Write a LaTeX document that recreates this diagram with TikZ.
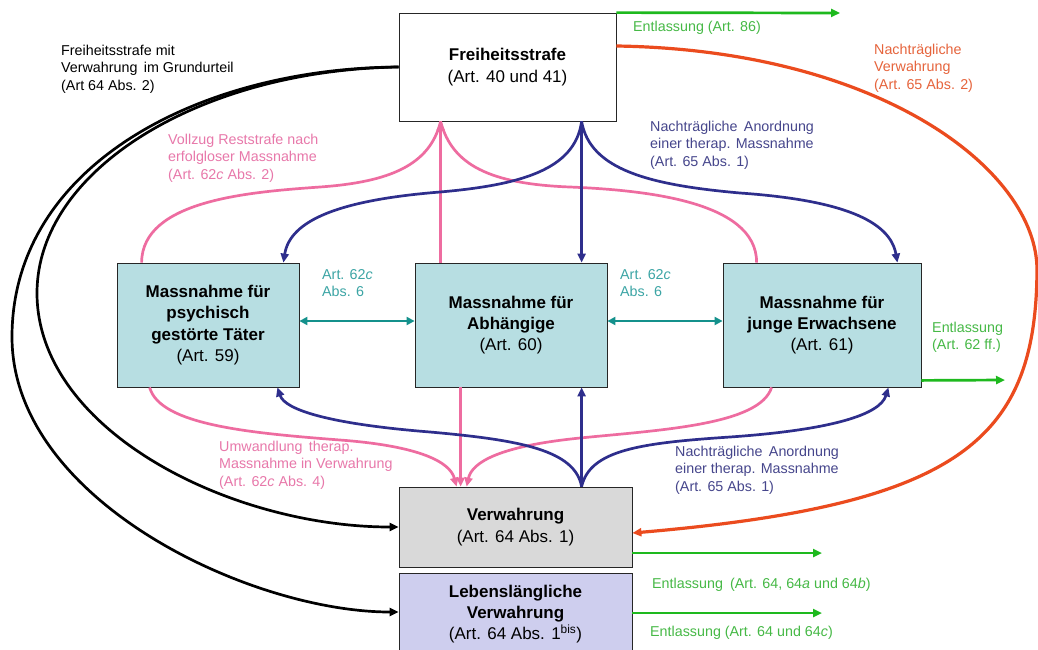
\documentclass[tikz,border=0pt]{standalone}
\usepackage{fontspec}
\setmainfont{Liberation Sans}
\usetikzlibrary{arrows.meta,calc}
\definecolor{boxteal}{RGB}{183,222,226}
\definecolor{boxgray}{RGB}{217,217,217}
\definecolor{boxlav}{RGB}{206,206,238}
\definecolor{cpink}{RGB}{238,108,160}
\definecolor{tpink}{RGB}{232,120,170}
\definecolor{cnavy}{RGB}{46,46,140}
\definecolor{tnavy}{RGB}{70,70,140}
\definecolor{cteal}{RGB}{20,145,140}
\definecolor{tteal}{RGB}{60,165,165}
\definecolor{cgreen}{RGB}{30,185,30}
\definecolor{tgreen}{RGB}{70,185,70}
\definecolor{corange}{RGB}{235,75,30}
\definecolor{torange}{RGB}{230,100,60}
\begin{document}
\begin{tikzpicture}[x=1pt,y=-1pt,
  box/.style={draw=black!85, line width=0.8pt, align=center, inner sep=0pt,
    font=\fontsize{17}{21.3}\selectfont, text=black},
  lbl/.style={align=left, anchor=west, inner sep=0pt, font=\fontsize{14.3}{17.3}\selectfont},
  conn/.style={line width=2.7pt},
  tip/.style={-{Triangle[length=9pt,width=8pt]}},
  dtip/.style={{Triangle[length=8pt,width=8pt]}-{Triangle[length=8pt,width=8pt]}},
]
\useasboundingbox (0,0) rectangle (1038,649);
\fill[white] (0,0) rectangle (1038,649);
\clip (0,0) rectangle (1038,649);

% boxes
\node[box, fill=white, minimum width=217pt, minimum height=108pt] (fs) at (507.5,67)
  {\textbf{Freiheitsstrafe}\\(Art. 40 und 41)};
\node[box, fill=boxteal, minimum width=182pt, minimum height=124pt] (m59) at (208,325)
  {\textbf{Massnahme für}\\\textbf{psychisch}\\\textbf{gestörte Täter}\\(Art. 59)};
\node[box, fill=boxteal, minimum width=192pt, minimum height=124pt] (m60) at (511,325)
  {\textbf{Massnahme für}\\\textbf{Abhängige}\\(Art. 60)};
\node[box, fill=boxteal, minimum width=198pt, minimum height=124pt] (m61) at (822,325)
  {\textbf{Massnahme für}\\\textbf{junge Erwachsene}\\(Art. 61)};
\node[box, fill=boxgray, minimum width=233pt, minimum height=80pt] (vw) at (515.5,527)
  {\textbf{Verwahrung}\\(Art. 64 Abs. 1)};
\node[box, fill=boxlav, minimum width=233pt, minimum height=82pt] (lv) at (515.5,614)
  {\textbf{Lebenslängliche}\\\textbf{Verwahrung}\\(Art. 64 Abs. 1\textsuperscript{bis})};

% free ends
\coordinate (g1) at (840,13);
\coordinate (g2) at (1005,380);
\coordinate (g3) at (822,553);
\coordinate (g4) at (822,613);

% black curves
\draw[conn, black, tip] (fs.west) .. controls (200,70) and (37,170) .. (37,293)
  .. controls (37,430) and (230,527) .. (vw.west);
\draw[conn, black, tip] (fs.west) .. controls (200,68) and (12,165) .. (12,337)
  .. controls (12,500) and (250,612) .. ($(lv.west)+(0,-2)$);

% orange
\draw[line width=3.2pt, corange, tip] ($(fs.east)+(0,-21)$) .. controls (880,50) and (1037,170) .. (1037,270)
  .. controls (1036,440) and (960,505) .. ($(vw.east)+(0,6)$);

% pink top
\draw[conn, cpink] ($(m59.north west)+(25,0)$) .. controls (142,200) and (250,192) .. (320,187)
  .. controls (390,182) and (430,165) .. ($(fs.south west)+(42,0)$);
\draw[conn, cpink] ($(m61.north west)+(34,0)$) .. controls (757,200) and (640,190) .. (570,187)
  .. controls (490,184) and (452,165) .. ($(fs.south west)+(42,0)$);
\draw[conn, cpink, tip] ($(m60.north west)+(26,0)$) -- ($(fs.south west)+(42,0)$);

% pink bottom
\draw[conn, cpink, tip] ($(m59.south west)+(33,0)$) .. controls (160,425) and (250,433) .. (340,440)
  .. controls (420,446) and (450,462) .. ($(vw.north west)+(58,0)$);
\draw[conn, cpink, tip] ($(m61.south west)+(49,0)$) .. controls (760,425) and (660,430) .. (580,438)
  .. controls (500,446) and (472,462) .. ($(vw.north west)+(68,0)$);
\draw[conn, cpink, tip] ($(m60.south west)+(46,0)$) -- ($(vw.north west)+(62,0)$);

% navy top
\draw[conn, cnavy, tip] ($(fs.south west)+(183,0)$) .. controls (575,170) and (520,185) .. (440,192)
  .. controls (340,200) and (290,220) .. ($(m59.north east)+(-16,0)$);
\draw[conn, cnavy, tip] ($(fs.south west)+(183,0)$) .. controls (590,170) and (650,185) .. (740,193)
  .. controls (840,200) and (890,220) .. ($(m61.north east)+(-24,0)$);
\draw[conn, cnavy, tip] ($(fs.south west)+(183,0)$) -- ($(m60.north west)+(167,0)$);

% navy bottom
\draw[conn, cnavy, tip] ($(vw.north west)+(183,0)$) .. controls (575,450) and (520,440) .. (430,432)
  .. controls (330,424) and (285,410) .. ($(m59.south east)+(-22,0)$);
\draw[conn, cnavy, tip] ($(vw.north west)+(183,0)$) .. controls (590,450) and (640,443) .. (730,437)
  .. controls (830,430) and (880,415) .. ($(m61.south east)+(-33,0)$);
\draw[conn, cnavy, tip] ($(vw.north west)+(183,0)$) -- ($(m60.south west)+(167,0)$);

% teal
\draw[conn, cteal, dtip] ($(m59.east)+(0,-4)$) -- ($(m60.west)+(0,-4)$);
\draw[conn, cteal, dtip] ($(m60.east)+(0,-4)$) -- ($(m61.west)+(0,-4)$);

% green
\draw[conn, cgreen, tip] (fs.north east) -- (g1);
\draw[conn, cgreen, tip] ($(m61.south east)+(0,-7)$) -- (g2);
\draw[conn, cgreen, tip] ($(vw.east)+(0,26)$) -- (g3);
\draw[conn, cgreen, tip] ($(lv.east)+(0,-1)$) -- (g4);

% labels
\node[lbl] (lfv) at (61,69) {Freiheitsstrafe mit\\Verwahrung\, im Grundurteil\\(Art 64 Abs. 2)};
\node[lbl, text=tpink] (lvr) at (168,158) {Vollzug Reststrafe nach\\erfolgloser Massnahme\\(Art. 62\textit{c} Abs. 2)};
\node[lbl, text=tgreen] (le86) at (633,28) {Entlassung (Art. 86)};
\node[lbl, text=torange] (lnv) at (874,68) {Nachträgliche\\Verwahrung\\(Art. 65 Abs. 2)};
\node[lbl, text=tnavy] (lna1) at (650,145) {Nachträgliche\, Anordnung\\einer therap. Massnahme\\(Art. 65 Abs. 1)};
\node[lbl, text=tteal] (lt1) at (322,283) {Art. 62\textit{c}\\Abs. 6};
\node[lbl, text=tteal] (lt2) at (620,283) {Art. 62\textit{c}\\Abs. 6};
\node[lbl, text=tgreen] (le62) at (932,337) {Entlassung\\(Art. 62 ff.)};
\node[lbl, text=tpink] (lum) at (219,465) {Umwandlung\, therap.\\Massnahme in Verwahrung\\(Art. 62\textit{c} Abs. 4)};
\node[lbl, text=tnavy] (lna2) at (675,470) {Nachträgliche\, Anordnung\\einer therap. Massnahme\\(Art. 65 Abs. 1)};
\node[lbl, text=tgreen] (le64) at (652,585) {Entlassung\enspace(Art. 64, 64\textit{a} und 64\textit{b})};
\node[lbl, text=tgreen] (le64c) at (650,633) {Entlassung (Art. 64 und 64\textit{c})};
\end{tikzpicture}
\end{document}
